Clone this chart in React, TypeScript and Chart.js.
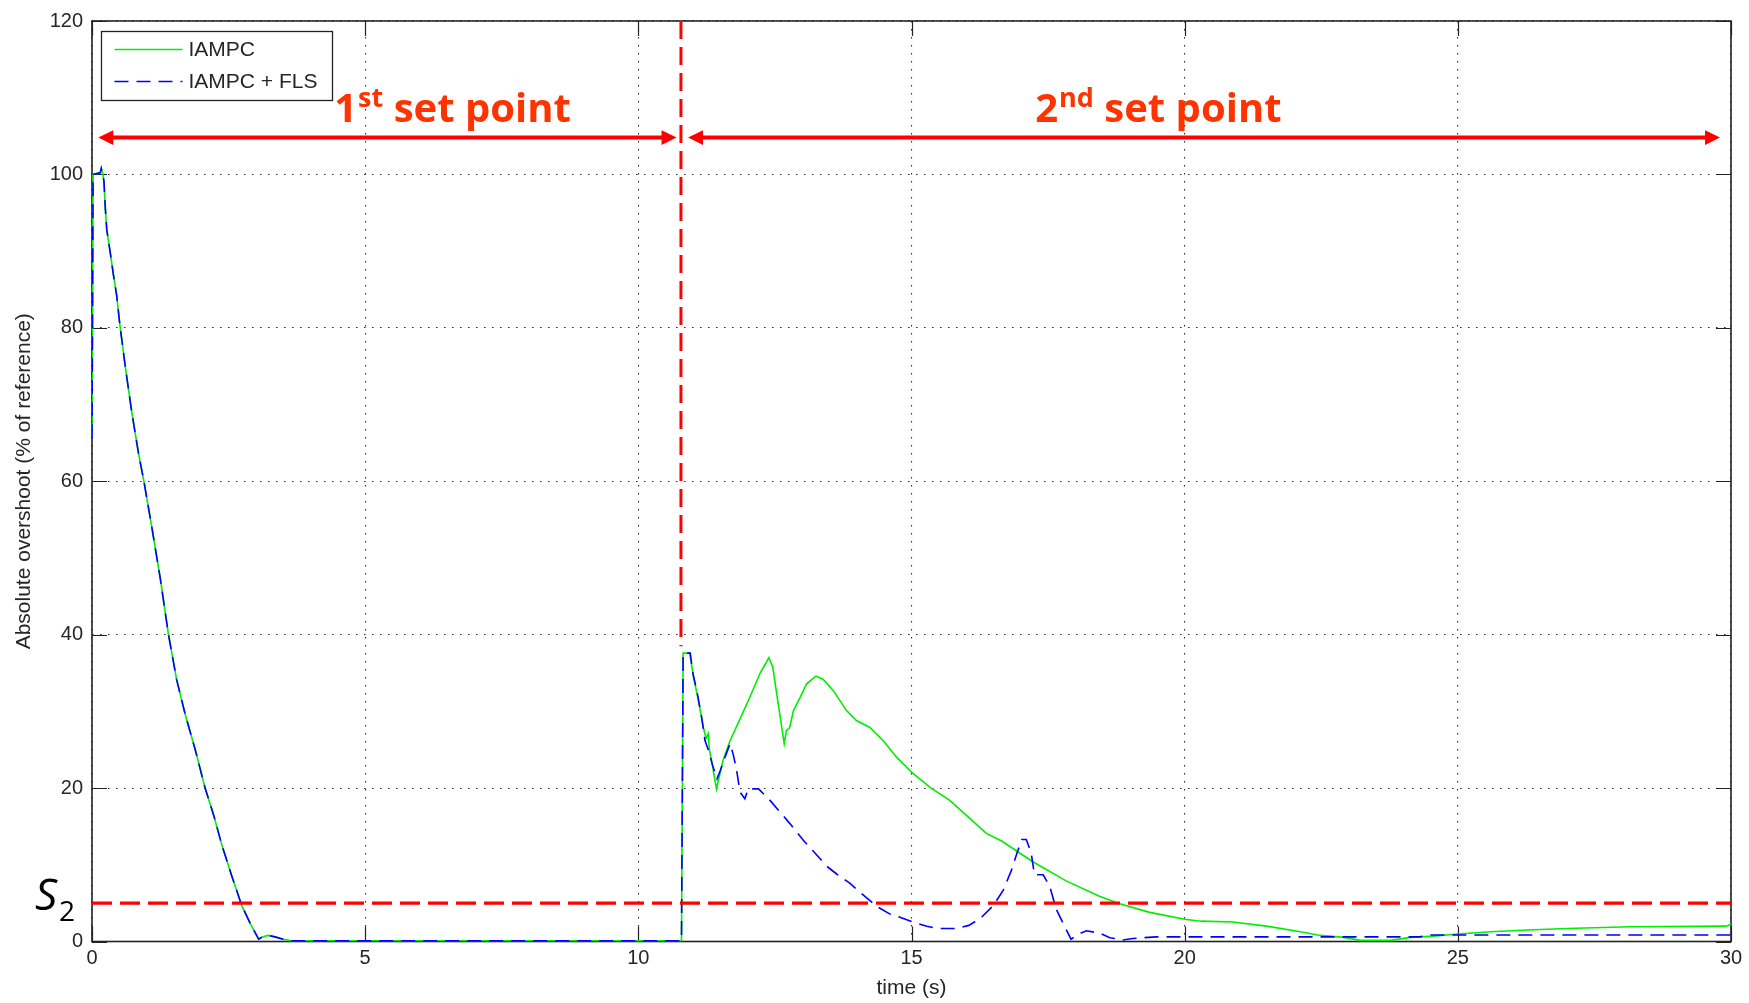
import React, { useEffect, useRef } from 'react';
import { Chart, registerables } from 'chart.js';

Chart.register(...registerables);

// ---------- data ----------
const X_TICKS = [0, 5, 10, 15, 20, 25, 30];
const Y_TICKS = [0, 20, 40, 60, 80, 100, 120];

const SERIES_LABELS = ['IAMPC', 'IAMPC + FLS'];

// [time (s), absolute overshoot (%)]
const IAMPC: [number, number][] = [
  [0, 65.6], [0.02, 100], [0.15, 100.2], [0.17, 100.8], [0.2, 100], [0.22, 99], [0.24, 96], [0.27, 92.8],
  [0.33, 90], [0.39, 87], [0.45, 84.3], [0.51, 80.4], [0.61, 74.9], [0.73, 68.9], [0.85, 63.7], [0.95, 60],
  [1.1, 53.8], [1.25, 47.3], [1.4, 40], [1.55, 34.1], [1.71, 29.5], [1.89, 25], [2.07, 20], [2.23, 16.4],
  [2.38, 12.5], [2.56, 8.5], [2.74, 4.7], [2.9, 2.3], [3.05, 0.3], [3.12, 0.6], [3.22, 0.8], [3.35, 0.6],
  [3.5, 0.3], [3.65, 0.1], [10.79, 0.1], [10.82, 37.6], [10.94, 37.6], [11.01, 34.5], [11.1, 31.4],
  [11.19, 27.9], [11.24, 26.5], [11.28, 27.1], [11.3, 25], [11.34, 23.6], [11.43, 19.9], [11.55, 23.6],
  [11.68, 26.2], [11.86, 29.0], [12.05, 32.0], [12.23, 35.0], [12.39, 37.0], [12.46, 35.8], [12.56, 31.0],
  [12.67, 25.8], [12.71, 27.5], [12.77, 27.9], [12.84, 30.1], [12.96, 31.8], [13.08, 33.6], [13.25, 34.6],
  [13.38, 34.2], [13.57, 32.7], [13.81, 30.1], [13.99, 28.8], [14.24, 27.9], [14.48, 26.2], [14.73, 24.0],
  [15.01, 22.0], [15.34, 20.1], [15.7, 18.4], [16.01, 16.4], [16.37, 14.1], [16.65, 13.1], [17.22, 10.4],
  [17.83, 7.9], [18.44, 5.9], [18.78, 5.0], [19.36, 3.8], [20.0, 2.9], [20.3, 2.65], [20.88, 2.55],
  [21.5, 2.0], [22.12, 1.28], [22.43, 0.84], [22.91, 0.54], [23.22, 0.15], [23.77, 0.15], [24.13, 0.54],
  [24.56, 0.7], [25.0, 0.97], [25.6, 1.28], [26.27, 1.5], [27.0, 1.7], [28.16, 1.93], [29.9, 2.0], [30, 2.2],
];

const IAMPC_FLS: [number, number][] = [
  [0, 65.6], [0.02, 100], [0.15, 100.2], [0.17, 100.8], [0.2, 100], [0.22, 99], [0.24, 96], [0.27, 92.8],
  [0.33, 90], [0.39, 87], [0.45, 84.3], [0.51, 80.4], [0.61, 74.9], [0.73, 68.9], [0.85, 63.7], [0.95, 60],
  [1.1, 53.8], [1.25, 47.3], [1.4, 40], [1.55, 34.1], [1.71, 29.5], [1.89, 25], [2.07, 20], [2.23, 16.4],
  [2.38, 12.5], [2.56, 8.5], [2.74, 4.7], [2.9, 2.3], [3.05, 0.3], [3.12, 0.6], [3.22, 0.8], [3.35, 0.6],
  [3.5, 0.3], [3.65, 0.1], [10.79, 0.1], [10.82, 37.6], [10.95, 37.6], [11.0, 34.9], [11.07, 32.7],
  [11.16, 29.2], [11.22, 26.2], [11.28, 25.0], [11.37, 22.7], [11.44, 21.2], [11.5, 22.3], [11.59, 24.1],
  [11.68, 25.8], [11.74, 24.3], [11.8, 22.3], [11.86, 19.5], [11.95, 18.6], [12.01, 19.9], [12.2, 19.9],
  [12.41, 18.4], [12.59, 16.9], [12.77, 15.4], [13.02, 13.2], [13.2, 11.8], [13.45, 9.8], [13.63, 8.8],
  [13.87, 7.6], [14.06, 6.4], [14.36, 4.6], [14.6, 3.6], [14.85, 3.0], [15.0, 2.6], [15.28, 2.0],
  [15.46, 1.7], [15.83, 1.7], [16.05, 2.1], [16.26, 3.0], [16.5, 4.7], [16.68, 6.7], [16.83, 9.3],
  [16.93, 11.5], [17.02, 13.3], [17.1, 13.3], [17.19, 11.6], [17.25, 8.7], [17.41, 8.7], [17.53, 7.2],
  [17.65, 4.2], [17.8, 2.0], [17.92, 0.3], [18.05, 0.95], [18.2, 1.4], [18.44, 1.1], [18.63, 0.5],
  [18.87, 0.2], [19.05, 0.4], [19.48, 0.6], [24.3, 0.6], [24.5, 0.85], [30, 0.85],
];

// threshold and set-point switch
const S2_LEVEL = 5;
const SWITCH_TIME = 10.78;
const SWITCH_LINE_RANGE = [120, 38.5];

// annotation arrows / labels (in data units)
const ARROW_LEVEL = 104.8;
const SEGMENT_1 = [0.115, 10.7];
const SEGMENT_2 = [10.91, 29.8];
const LABEL_1 = ['1', 'st', ' set point'];
const LABEL_2 = ['2', 'nd', ' set point'];
const LABEL_1_CENTER = 6.59;
const LABEL_2_CENTER = 19.51;

// ---------- styling ----------
const AXIS_FONT = "'Liberation Sans', Arial, Helvetica, sans-serif";
const NOTE_FONT = "'Open Sans', 'Noto Sans', sans-serif";
const FRAME = '#222222';
const TEXT = '#262626';

const toPts = (arr: [number, number][]) => arr.map(([x, y]) => ({ x, y }));

function drawArrow(ctx: CanvasRenderingContext2D, x1: number, x2: number, y: number) {
  const head = 15;
  const half = 7.3;
  ctx.save();
  ctx.strokeStyle = '#ff0000';
  ctx.fillStyle = '#ff0000';
  ctx.lineWidth = 4;
  ctx.beginPath();
  ctx.moveTo(x1 + head - 1, y);
  ctx.lineTo(x2 - head + 1, y);
  ctx.stroke();
  ctx.beginPath();
  ctx.moveTo(x1, y);
  ctx.lineTo(x1 + head, y - half);
  ctx.lineTo(x1 + head, y + half);
  ctx.closePath();
  ctx.fill();
  ctx.beginPath();
  ctx.moveTo(x2, y);
  ctx.lineTo(x2 - head, y - half);
  ctx.lineTo(x2 - head, y + half);
  ctx.closePath();
  ctx.fill();
  ctx.restore();
}

function drawSupLabel(ctx: CanvasRenderingContext2D, parts: string[], cx: number, baseline: number) {
  const big = `bold 40px ${NOTE_FONT}`;
  const small = `bold 27px ${NOTE_FONT}`;
  ctx.save();
  ctx.fillStyle = '#ff3300';
  ctx.textBaseline = 'alphabetic';
  ctx.textAlign = 'left';
  ctx.font = big;
  const w0 = ctx.measureText(parts[0]).width;
  const w2 = ctx.measureText(parts[2]).width;
  ctx.font = small;
  const w1 = ctx.measureText(parts[1]).width;
  let x = cx - (w0 + w1 + w2) / 2;
  ctx.font = big;
  ctx.fillText(parts[0], x, baseline);
  x += w0 + 1;
  ctx.font = small;
  ctx.fillText(parts[1], x, baseline - 15);
  x += w1;
  ctx.font = big;
  ctx.fillText(parts[2], x, baseline);
  ctx.restore();
}

const decorPlugin = {
  id: 'decor',
  beforeDatasetsDraw(chart: any) {
    const { ctx, chartArea: ca, scales } = chart;
    const tick = 15;
    ctx.save();
    ctx.strokeStyle = FRAME;
    ctx.lineWidth = 1.2;
    ctx.beginPath();
    X_TICKS.forEach((v) => {
      const px = Math.round(scales.x.getPixelForValue(v)) + 0.5;
      ctx.moveTo(px, ca.bottom);
      ctx.lineTo(px, ca.bottom - tick);
      ctx.moveTo(px, ca.top);
      ctx.lineTo(px, ca.top + tick);
    });
    Y_TICKS.forEach((v) => {
      const py = Math.round(scales.y.getPixelForValue(v)) + 0.5;
      ctx.moveTo(ca.left, py);
      ctx.lineTo(ca.left + tick, py);
      ctx.moveTo(ca.right, py);
      ctx.lineTo(ca.right - tick, py);
    });
    ctx.stroke();
    ctx.lineWidth = 1.6;
    ctx.strokeRect(ca.left, ca.top, ca.right - ca.left, ca.bottom - ca.top);
    ctx.restore();
  },
  afterDraw(chart: any) {
    const { ctx, chartArea: ca, scales } = chart;
    const xs = scales.x;
    const ys = scales.y;

    // legend
    const bx = ca.left + 9.5;
    const by = ca.top + 10.5;
    const bw = 231;
    const bh = 69;
    ctx.save();
    ctx.fillStyle = '#ffffff';
    ctx.fillRect(bx, by, bw, bh);
    ctx.strokeStyle = FRAME;
    ctx.lineWidth = 1.3;
    ctx.strokeRect(bx, by, bw, bh);
    const rows = [by + 18, by + 50];
    [0, 1].forEach((i) => {
      const ds = chart.data.datasets[i];
      ctx.save();
      ctx.strokeStyle = ds.borderColor;
      ctx.lineWidth = 1.6;
      ctx.setLineDash(ds.borderDash || []);
      ctx.beginPath();
      ctx.moveTo(bx + 13, rows[i]);
      ctx.lineTo(bx + 81, rows[i]);
      ctx.stroke();
      ctx.restore();
      ctx.fillStyle = TEXT;
      ctx.font = `21px ${AXIS_FONT}`;
      ctx.textBaseline = 'middle';
      ctx.textAlign = 'left';
      ctx.fillText(ds.label, bx + 87, rows[i] + 1);
    });
    ctx.restore();

    // arrows
    const ay = ys.getPixelForValue(ARROW_LEVEL);
    drawArrow(ctx, xs.getPixelForValue(SEGMENT_1[0]), xs.getPixelForValue(SEGMENT_1[1]), ay);
    drawArrow(ctx, xs.getPixelForValue(SEGMENT_2[0]), xs.getPixelForValue(SEGMENT_2[1]), ay);

    // segment labels
    drawSupLabel(ctx, LABEL_1, xs.getPixelForValue(LABEL_1_CENTER), ay - 15.5);
    drawSupLabel(ctx, LABEL_2, xs.getPixelForValue(LABEL_2_CENTER), ay - 15.5);

    // S2 label
    const sy = ys.getPixelForValue(S2_LEVEL);
    ctx.save();
    ctx.fillStyle = '#000000';
    ctx.textBaseline = 'alphabetic';
    ctx.textAlign = 'left';
    ctx.font = `italic 44px ${NOTE_FONT}`;
    ctx.fillText('S', ca.left - 57, sy + 6.5);
    ctx.font = `28px ${NOTE_FONT}`;
    ctx.fillText('2', ca.left - 33, sy + 17.5);
    ctx.restore();
  },
};

export default function App() {
  const ref = useRef<HTMLCanvasElement>(null);

  useEffect(() => {
    if (!ref.current) return;
    const gridOpts = { color: '#2e2e2e', lineWidth: 1.1, drawTicks: false };
    const borderOpts = { display: false, dash: [1.6, 6.4] };
    const chart = new Chart(ref.current, {
      type: 'line',
      data: {
        datasets: [
          {
            label: SERIES_LABELS[0],
            data: toPts(IAMPC),
            borderColor: '#00ee00',
            borderWidth: 1.6,
            pointRadius: 0,
            tension: 0,
            order: 2,
          },
          {
            label: SERIES_LABELS[1],
            data: toPts(IAMPC_FLS),
            borderColor: '#0000ff',
            borderWidth: 1.6,
            borderDash: [14, 8],
            pointRadius: 0,
            tension: 0,
            order: 1,
          },
          {
            label: 'S2',
            data: [
              { x: X_TICKS[0], y: S2_LEVEL },
              { x: X_TICKS[X_TICKS.length - 1], y: S2_LEVEL },
            ],
            borderColor: '#ff0000',
            borderWidth: 3.3,
            borderDash: [20, 8],
            pointRadius: 0,
            order: 0,
          },
          {
            label: 'switch',
            data: [
              { x: SWITCH_TIME, y: SWITCH_LINE_RANGE[0] },
              { x: SWITCH_TIME, y: SWITCH_LINE_RANGE[1] },
            ],
            borderColor: '#ff0000',
            borderWidth: 3,
            borderDash: [18, 8],
            pointRadius: 0,
            order: 0,
          },
        ],
      },
      options: {
        animation: false,
        responsive: false,
        devicePixelRatio: 1,
        layout: { padding: { left: 0, right: 18, top: 20, bottom: 0 } },
        plugins: {
          legend: { display: false },
          tooltip: { enabled: false },
        },
        scales: {
          x: {
            type: 'linear',
            min: X_TICKS[0],
            max: X_TICKS[X_TICKS.length - 1],
            afterBuildTicks: (s: any) => {
              s.ticks = X_TICKS.map((value) => ({ value }));
            },
            afterFit: (s: any) => {
              s.height = 61.5;
            },
            grid: gridOpts,
            border: borderOpts,
            ticks: {
              color: TEXT,
              font: { family: AXIS_FONT, size: 20 },
              padding: 5,
              maxRotation: 0,
              autoSkip: false,
            },
            title: {
              display: true,
              text: 'time (s)',
              color: TEXT,
              font: { family: AXIS_FONT, size: 21 },
              padding: { top: 0, bottom: 2 },
            },
          },
          y: {
            type: 'linear',
            min: Y_TICKS[0],
            max: Y_TICKS[Y_TICKS.length - 1],
            afterBuildTicks: (s: any) => {
              s.ticks = Y_TICKS.map((value) => ({ value }));
            },
            afterFit: (s: any) => {
              s.width = 92;
            },
            grid: gridOpts,
            border: borderOpts,
            ticks: {
              color: TEXT,
              font: { family: AXIS_FONT, size: 20 },
              padding: 9,
              autoSkip: false,
            },
            title: {
              display: true,
              text: 'Absolute overshoot (% of reference)',
              color: TEXT,
              font: { family: AXIS_FONT, size: 21 },
              padding: { top: 12, bottom: 0 },
            },
          },
        },
      },
      plugins: [decorPlugin],
    } as any);
    return () => chart.destroy();
  }, []);

  return (
    <div style={{ position: 'fixed', left: 0, top: 0, width: 1749, height: 1003, background: '#ffffff' }}>
      <canvas ref={ref} width={1749} height={1003} style={{ width: 1749, height: 1003, display: 'block' }} />
    </div>
  );
}
